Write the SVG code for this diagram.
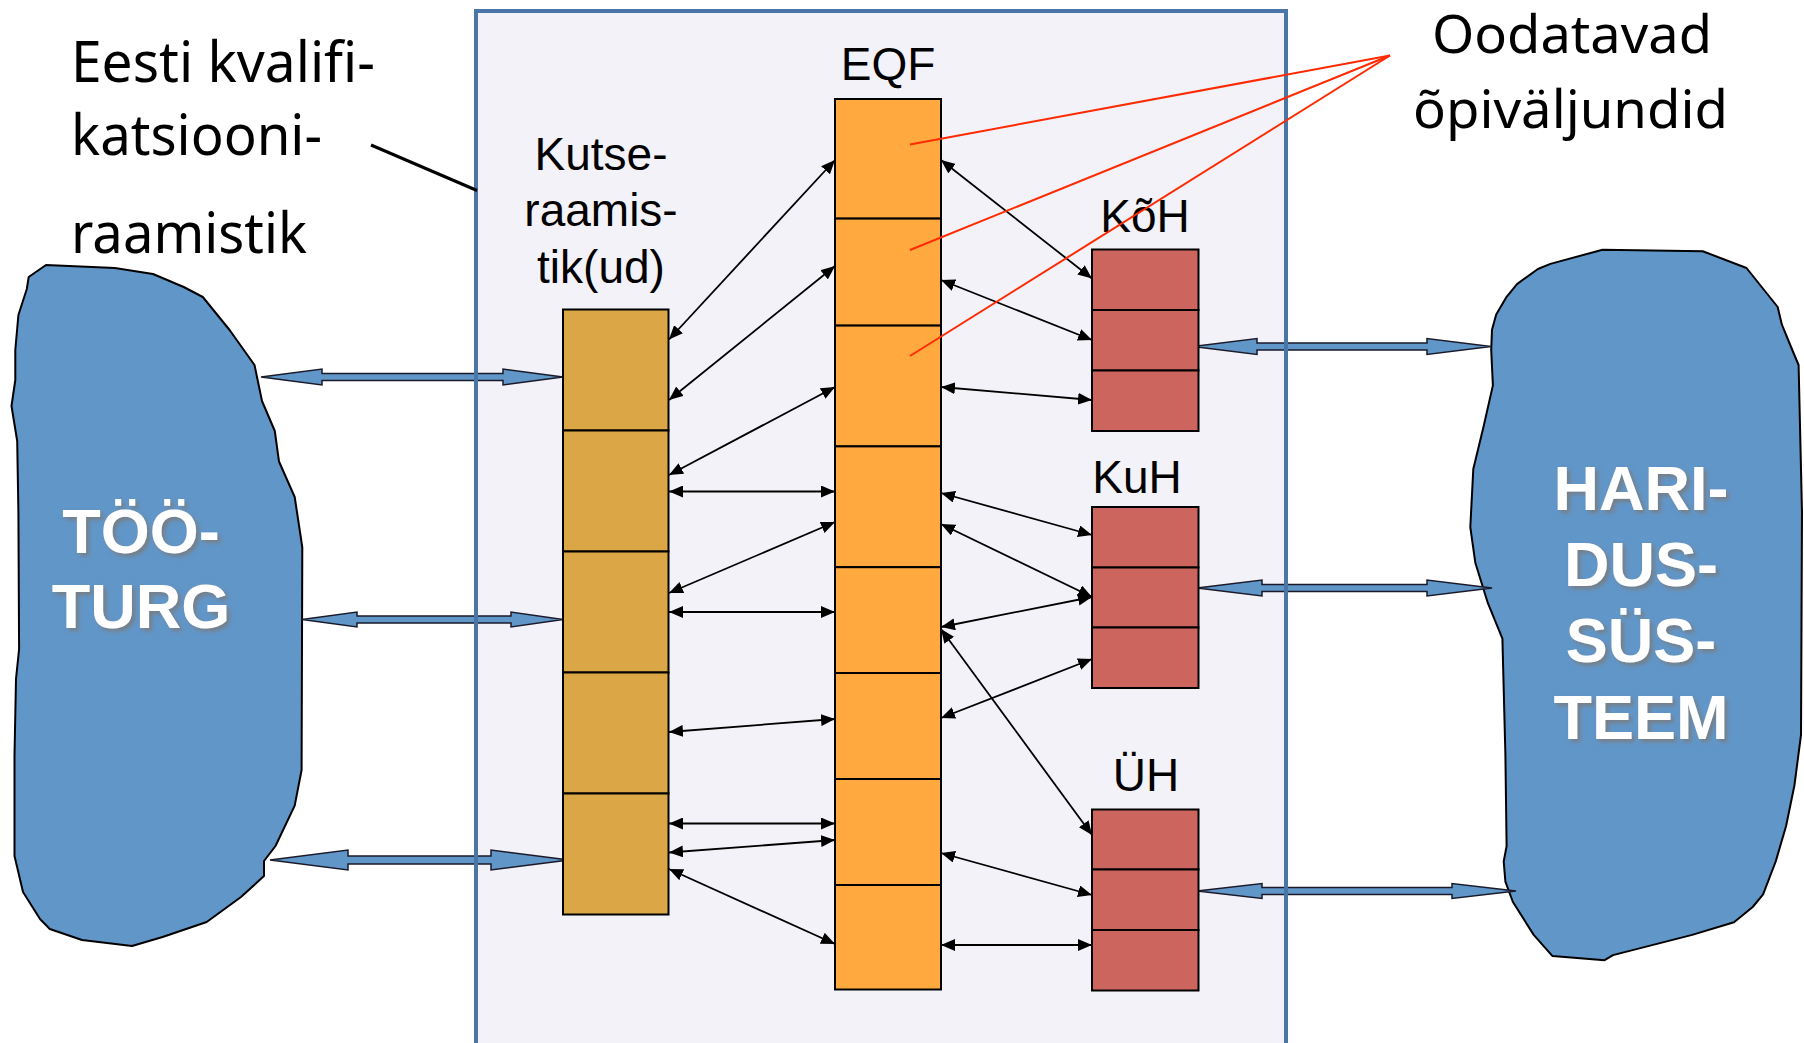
<svg xmlns="http://www.w3.org/2000/svg" width="1804" height="1043" viewBox="0 0 1804 1043">
<style>
.lbl{font-family:"Liberation Sans",Arial,sans-serif;font-size:46px;fill:#000}
.cal{font-family:"Noto Sans","Open Sans",sans-serif;fill:#000}
.big{font-family:"Liberation Sans",Arial,sans-serif;font-weight:bold;font-size:63px;fill:#fff;text-anchor:middle}
.cloud{fill:#6196c9;stroke:#000;stroke-width:2;stroke-linejoin:round}
.barrow{fill:#6196c9;stroke:#1a1a2a;stroke-width:1.5;stroke-linejoin:miter}
.tan{fill:#dba646;stroke:#000;stroke-width:2}
.org{fill:#ffa93f;stroke:#000;stroke-width:2}
.red{fill:#cc655d;stroke:#000;stroke-width:2}
.con{stroke:#000;stroke-width:1.8;fill:none;marker-start:url(#ah);marker-end:url(#ah)}
.rl{stroke:#ff2a00;stroke-width:2;fill:none}
</style>
<defs>
<marker id="ah" viewBox="0 0 14 12" refX="14" refY="6" markerWidth="14" markerHeight="12" markerUnits="userSpaceOnUse" orient="auto-start-reverse">
<path d="M0,0 L14,6 L0,12 z" fill="#000"/>
</marker>
<filter id="sh" x="-20%" y="-20%" width="140%" height="140%">
<feGaussianBlur in="SourceAlpha" stdDeviation="2"/>
<feOffset dx="3" dy="3" result="b"/>
<feFlood flood-color="#7a7a7a" flood-opacity="0.85"/>
<feComposite in2="b" operator="in" result="s"/>
<feMerge><feMergeNode in="s"/><feMergeNode in="SourceGraphic"/></feMerge>
</filter>
</defs>

<g id="panel-bg"><rect x="476" y="11" width="810" height="1060" fill="#f3f2f8"/></g>

<g id="toouturg">
<path class="cloud" d="M46,265 L28.7,277 L26.8,289 L18.4,315 L15.3,350 L15.3,380 L11.5,406 L17.2,441 L18.4,512 L19.1,649 L16,679 L14.5,755 L14.5,856 L23,892 L40,919 L49.8,929 L82,940 L132,946 L162.6,937 L206.7,922 L241,897 L264,876 L264,861 L275.5,846 L294.7,805.6 L301.6,770 L302.3,547.5 L300,532 L294.7,497 L279,461.5 L274.8,431 L262,401 L254.5,365 L229.6,330 L202.8,297 L183.7,287 L153,274 L114.8,268 Z"/>
<text class="big" filter="url(#sh)" x="141" y="553">TÖÖ-</text>
<text class="big" filter="url(#sh)" x="141" y="628">TURG</text>
</g>

<g id="haridussusteem">
<path class="cloud" d="M1602.6,249.7 L1550.4,263.9 L1537.9,269 L1517,284.1 L1506.6,296.8 L1496.2,314.5 L1492,329.7 L1491.2,350 L1492.9,385.4 L1483.7,426 L1473.3,469 L1470.3,527.2 L1475.3,562.7 L1487.9,603.2 L1502.4,638.6 L1505.4,755 L1506.6,846.3 L1503.7,861.5 L1505.4,881.7 L1512.9,902 L1533.7,934.9 L1552.5,956.1 L1604.6,960.2 L1613,955.1 L1692.2,934.9 L1734,922.2 L1752.7,907 L1763.1,894.3 L1775.7,861.5 L1786.1,826 L1794.4,785.5 L1801,735 L1802,512 L1798.6,365 L1792.3,350 L1781.9,324.7 L1777.7,307 L1746.5,268 L1702.7,251.2 Z"/>
<text class="big" filter="url(#sh)" x="1641" y="510">HARI-</text>
<text class="big" filter="url(#sh)" x="1641" y="586">DUS-</text>
<text class="big" filter="url(#sh)" x="1641" y="662">SÜS-</text>
<text class="big" filter="url(#sh)" x="1641" y="739">TEEM</text>
</g>

<g id="block-arrows">
<polygon class="barrow" points="261,377 322,369 322,373.5 503,373.5 503,369 563,377 503,385 503,380.5 322,380.5 322,385"/>
<polygon class="barrow" points="302,619.5 357,612 357,616 511,616 511,612 563,619.5 511,627 511,623 357,623 357,627"/>
<polygon class="barrow" points="270,860 348,850 348,856 491,856 491,850 569,860 491,870 491,864 348,864 348,870"/>
<polygon class="barrow" points="1193,346.5 1257,338.5 1257,343 1427,343 1427,338.5 1491,346.5 1427,354.5 1427,350 1257,350 1257,354.5"/>
<polygon class="barrow" points="1197,588 1262,580 1262,584.5 1427,584.5 1427,580 1492,588 1427,596 1427,591.5 1262,591.5 1262,596"/>
<polygon class="barrow" points="1197,891 1262,883.5 1262,887.5 1452,887.5 1452,883.5 1516,891 1452,898.5 1452,894.5 1262,894.5 1262,898.5"/>
</g>

<g id="panel-border"><rect x="476" y="11" width="810" height="1060" fill="none" stroke="#4a75a7" stroke-width="4"/></g>

<g id="eesti-label">
<text class="cal" font-size="56" x="71" y="82" textLength="304" lengthAdjust="spacingAndGlyphs">Eesti kvalifi-</text>
<text class="cal" font-size="56" x="71" y="155" textLength="251" lengthAdjust="spacingAndGlyphs">katsiooni-</text>
<text class="cal" font-size="56" x="71" y="253" textLength="236" lengthAdjust="spacingAndGlyphs">raamistik</text>
<line x1="371" y1="145" x2="477" y2="190.5" stroke="#000" stroke-width="3"/>
</g>

<g id="kutse">
<text class="lbl" x="601" y="170" text-anchor="middle">Kutse-</text>
<text class="lbl" x="601" y="226" text-anchor="middle">raamis-</text>
<text class="lbl" x="601" y="283" text-anchor="middle">tik(ud)</text>
<rect class="tan" x="563" y="309.5" width="105.5" height="121"/>
<rect class="tan" x="563" y="430.5" width="105.5" height="121"/>
<rect class="tan" x="563" y="551.5" width="105.5" height="121"/>
<rect class="tan" x="563" y="672.5" width="105.5" height="121"/>
<rect class="tan" x="563" y="793.5" width="105.5" height="121"/>
</g>

<g id="eqf">
<text class="lbl" x="888" y="80" text-anchor="middle">EQF</text>
<rect class="org" x="835" y="99" width="106" height="119.6"/>
<rect class="org" x="835" y="218.6" width="106" height="107"/>
<rect class="org" x="835" y="325.6" width="106" height="120.8"/>
<rect class="org" x="835" y="446.4" width="106" height="120.8"/>
<rect class="org" x="835" y="567.2" width="106" height="105.8"/>
<rect class="org" x="835" y="673" width="106" height="106"/>
<rect class="org" x="835" y="779" width="106" height="106"/>
<rect class="org" x="835" y="885" width="106" height="104.5"/>
</g>

<g id="koh">
<text class="lbl" x="1145" y="232" text-anchor="middle">KõH</text>
<rect class="red" x="1092" y="249.5" width="106.5" height="60.5"/>
<rect class="red" x="1092" y="310" width="106.5" height="60.5"/>
<rect class="red" x="1092" y="370.5" width="106.5" height="60.5"/>
</g>

<g id="kuh">
<text class="lbl" x="1137" y="493" text-anchor="middle">KuH</text>
<rect class="red" x="1092" y="507" width="106.5" height="60.5"/>
<rect class="red" x="1092" y="567.5" width="106.5" height="60"/>
<rect class="red" x="1092" y="627.5" width="106.5" height="60.5"/>
</g>

<g id="uh">
<text class="lbl" x="1146" y="791" text-anchor="middle">ÜH</text>
<rect class="red" x="1092" y="809.5" width="106.5" height="60"/>
<rect class="red" x="1092" y="869.5" width="106.5" height="60.5"/>
<rect class="red" x="1092" y="930" width="106.5" height="60.5"/>
</g>

<g id="connectors">
<line class="con" x1="669" y1="339.5" x2="835" y2="160"/>
<line class="con" x1="669" y1="400" x2="835" y2="266"/>
<line class="con" x1="669" y1="475" x2="835" y2="387"/>
<line class="con" x1="669" y1="491.5" x2="835" y2="491.5"/>
<line class="con" x1="669" y1="593" x2="835" y2="522"/>
<line class="con" x1="669" y1="612" x2="835" y2="612"/>
<line class="con" x1="669" y1="732" x2="835" y2="719"/>
<line class="con" x1="669" y1="823.5" x2="835" y2="823.5"/>
<line class="con" x1="669" y1="852.5" x2="835" y2="840"/>
<line class="con" x1="669" y1="869" x2="835" y2="944"/>
<line class="con" x1="941" y1="160" x2="1092" y2="278.5"/>
<line class="con" x1="941" y1="280" x2="1092" y2="340"/>
<line class="con" x1="941" y1="387" x2="1092" y2="400"/>
<line class="con" x1="941" y1="493" x2="1092" y2="535"/>
<line class="con" x1="941" y1="524" x2="1092" y2="597"/>
<line class="con" x1="941" y1="627" x2="1092" y2="597"/>
<line class="con" x1="941" y1="718" x2="1092" y2="659"/>
<line class="con" x1="941" y1="629" x2="1092" y2="835"/>
<line class="con" x1="941" y1="853" x2="1092" y2="895"/>
<line class="con" x1="941" y1="945" x2="1092" y2="945"/>
</g>

<g id="oodatavad">
<text class="cal" font-size="53" x="1432" y="53" textLength="280" lengthAdjust="spacingAndGlyphs">Oodatavad</text>
<text class="cal" font-size="53" x="1413" y="128" textLength="315" lengthAdjust="spacingAndGlyphs">õpiväljundid</text>
<line class="rl" x1="910" y1="144.5" x2="1390" y2="55.5"/>
<line class="rl" x1="910" y1="250" x2="1390" y2="55.5"/>
<line class="rl" x1="910" y1="356" x2="1390" y2="55.5"/>
</g>
</svg>
